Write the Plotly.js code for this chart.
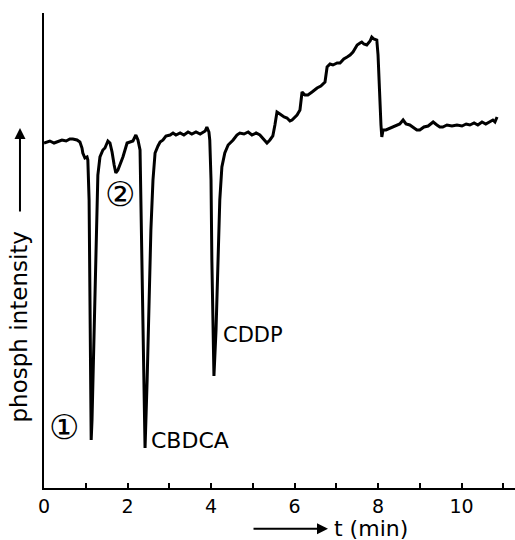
<!DOCTYPE html>
<html>
<head>
<meta charset="utf-8">
<script src="https://cdn.plot.ly/plotly-3.0.1.min.js"></script>
<style>html,body{margin:0;padding:0;background:#fff;}#chart{width:515px;height:540px;}</style>
</head>
<body>
<div id="chart"></div>
<script>
// retention time (min)
const timeMin = [0.00,0.14,0.24,0.31,0.43,0.53,0.62,0.69,0.79,0.86,0.91,0.93,0.98,1.03,1.05,1.08,1.10,1.13,1.15,1.20,1.25,1.29,1.34,1.41,1.46,1.53,1.58,1.63,1.68,1.72,1.77,1.82,1.89,1.94,1.99,2.06,2.13,2.20,2.25,2.30,2.32,2.37,2.42,2.47,2.51,2.56,2.61,2.66,2.73,2.78,2.85,2.92,3.02,3.09,3.16,3.26,3.35,3.45,3.54,3.64,3.74,3.81,3.86,3.90,3.95,3.97,4.00,4.02,4.05,4.07,4.12,4.17,4.21,4.26,4.33,4.41,4.53,4.62,4.69,4.79,4.89,4.98,5.08,5.17,5.27,5.34,5.41,5.48,5.53,5.58,5.65,5.75,5.82,5.89,5.94,6.01,6.06,6.13,6.18,6.25,6.32,6.42,6.54,6.63,6.73,6.78,6.85,6.92,7.02,7.09,7.18,7.26,7.33,7.40,7.50,7.57,7.61,7.66,7.73,7.81,7.85,7.90,7.97,8.00,8.02,8.05,8.07,8.09,8.12,8.19,8.29,8.36,8.45,8.52,8.60,8.67,8.76,8.84,8.93,9.00,9.10,9.20,9.32,9.41,9.48,9.55,9.65,9.77,9.89,10.01,10.11,10.20,10.30,10.39,10.49,10.58,10.68,10.75,10.80,10.85];
// phosphorescence intensity (arbitrary units)
const intensity = [345,347,345,346,348,347,349,349,348,346,340,335,330,331,328,288,158,48,68,158,258,313,331,338,340,347,345,336,323,315,318,323,331,338,345,346,347,353,348,338,288,158,40,108,188,258,308,335,342,346,348,352,353,355,353,355,353,356,354,356,354,356,357,361,356,348,308,228,158,112,158,228,288,321,335,343,348,353,355,354,356,353,355,353,348,345,348,352,363,376,374,371,370,367,368,371,373,378,396,393,393,396,400,402,406,421,424,423,425,425,429,431,433,436,443,445,446,444,443,447,451,449,448,433,408,388,363,351,358,358,360,361,363,364,368,364,363,361,358,358,361,362,366,363,361,361,363,362,363,362,364,363,365,363,366,364,366,368,366,371];

const xTickVals = [0,2,4,6,8,10];
const xTickText = ["0","2","4","6","8","10"];

// peak labels: [text, time, intensity, anchor, size]
const peakLabels = [
  ["\u2460", 0.47, 61, "center", 34],
  ["\u2461", 1.82, 294, "center", 34],
  ["CBDCA", 2.52, 48, "left", 22],
  ["CDDP", 4.24, 153, "left", 21]
];

const FONT = "DejaVu Sans, Liberation Sans, sans-serif";

const trace = {
  x: timeMin, y: intensity, type: "scatter", mode: "lines",
  line: {color: "#000", width: 3}, hoverinfo: "skip", showlegend: false
};

const annotations = peakLabels.map(p => ({
  text: p[0], x: p[1], y: p[2], xref: "x", yref: "y",
  xanchor: p[3], yanchor: "middle", showarrow: false,
  font: {family: FONT, size: p[4], color: "#000"}
}));

// y axis title with arrow
annotations.push({
  text: "phosph intensity", textangle: -90, xref: "paper", yref: "paper",
  x: -0.051, y: 0.34, xanchor: "center", yanchor: "middle", showarrow: false,
  font: {family: FONT, size: 23, color: "#000"}
});
annotations.push({
  text: "", xref: "paper", yref: "paper", x: -0.051, y: 0.758,
  ax: 0, ay: 85, showarrow: true, arrowhead: 2, arrowsize: 1.1, arrowwidth: 2,
  arrowcolor: "#000", standoff: 0, startstandoff: 0
});
// x axis title with arrow
annotations.push({
  text: "t (min)", xref: "paper", yref: "paper",
  x: 0.694, y: -0.086, xanchor: "center", yanchor: "middle", showarrow: false,
  font: {family: FONT, size: 22, color: "#000"}
});
annotations.push({
  text: "", xref: "paper", yref: "paper", x: 0.603, y: -0.086,
  ax: -76, ay: 0, showarrow: true, arrowhead: 2, arrowsize: 1.1, arrowwidth: 2,
  arrowcolor: "#000", standoff: 0, startstandoff: 0
});

const layout = {
  width: 515, height: 540,
  margin: {l: 44, r: 0, t: 13, b: 52},
  paper_bgcolor: "#fff", plot_bgcolor: "#fff",
  font: {family: FONT, color: "#000"},
  showlegend: false,
  xaxis: {
    range: [0, 11.28], showgrid: false, zeroline: false,
    showline: true, linecolor: "#000", linewidth: 2,
    tickmode: "array", tickvals: xTickVals, ticktext: xTickText,
    ticks: "inside", ticklen: 5, tickwidth: 2, tickcolor: "#000",
    minor: {dtick: 1, ticks: "inside", ticklen: 5, tickwidth: 2, tickcolor: "#000", showgrid: false},
    tickfont: {family: FONT, size: 19, color: "#000"}
  },
  yaxis: {
    range: [0, 475], showgrid: false, zeroline: false,
    showline: true, linecolor: "#000", linewidth: 2,
    showticklabels: false, ticks: ""
  },
  annotations: annotations
};

Plotly.newPlot("chart", [trace], layout, {staticPlot: true, displayModeBar: false});
</script>
</body>
</html>
